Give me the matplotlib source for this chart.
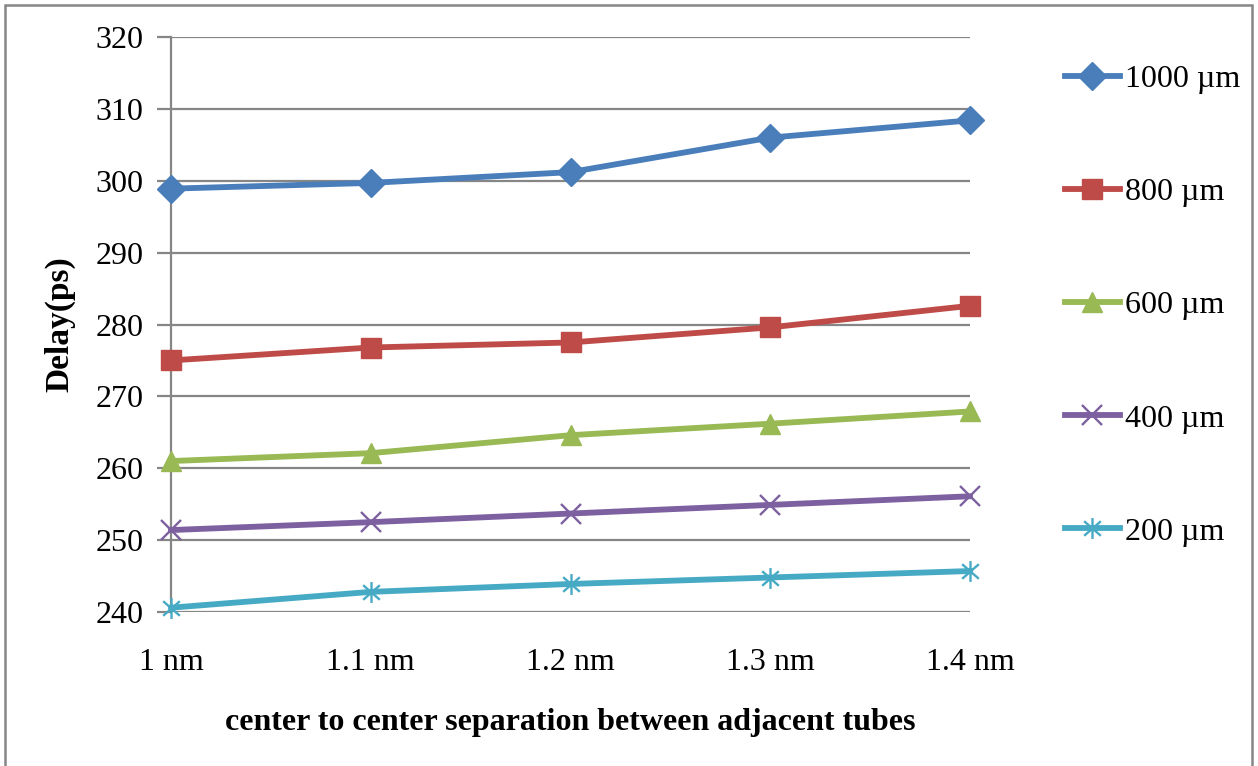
import matplotlib
matplotlib.use("Agg")
import matplotlib.pyplot as plt
from matplotlib.path import Path
from matplotlib.patches import Rectangle
import numpy as np

plt.rcParams['font.family'] = ['Liberation Serif', 'DejaVu Serif']

categories = ["1 nm", "1.1 nm", "1.2 nm", "1.3 nm", "1.4 nm"]
s1000 = [298.9, 299.7, 301.2, 306.0, 308.4]
s800 = [275.0, 276.8, 277.5, 279.6, 282.6]
s600 = [261.0, 262.1, 264.6, 266.2, 267.9]
s400 = [251.4, 252.5, 253.7, 254.9, 256.1]
s200 = [240.6, 242.8, 243.9, 244.8, 245.7]
labels = ["1000 µm", "800 µm", "600 µm", "400 µm", "200 µm"]
yticks = [240, 250, 260, 270, 280, 290, 300, 310, 320]

colors = ["#4A7EBB", "#BE4B48", "#98B954", "#7D60A0", "#46AAC5"]

star = Path([(0, -1), (0, 1), (-0.8, -0.7), (0.8, 0.7), (-0.8, 0.7), (0.8, -0.7)],
            [Path.MOVETO, Path.LINETO, Path.MOVETO, Path.LINETO, Path.MOVETO, Path.LINETO])
markers = ["D", "s", "^", "x", star]
msizes = [14, 14.5, 15, 14, 15]

FS = 23

fig = plt.figure(figsize=(12.58, 7.66), dpi=100)
ax = fig.add_axes([171/1258, 1-612/766, (970-171)/1258, (612-37)/766])

x = np.arange(len(categories))
series = [s1000, s800, s600, s400, s200]
for s, c, m, ms, lab in zip(series, colors, markers, msizes, labels):
    mew = 1.7 if (isinstance(m, str) and m == "x") or m is star else 1
    ax.plot(x, s, color=c, lw=4.2, marker=m, markersize=ms, markeredgecolor=c,
            markerfacecolor=c, markeredgewidth=mew, label=lab, clip_on=False, zorder=3)

ax.set_xlim(0, 4)
ax.set_ylim(240, 320)
ax.set_yticks(yticks)
ax.set_xticks(x)
ax.set_xticklabels(categories)
ax.grid(axis='y', color='#868686', lw=1.6)
ax.set_axisbelow(True)
for sp in ['top', 'right', 'bottom']:
    ax.spines[sp].set_visible(False)
ax.spines['left'].set_color('#868686')
ax.spines['left'].set_linewidth(1.6)
ax.tick_params(axis='y', length=10, width=1.6, color='#868686', labelsize=FS, pad=10)
ax.tick_params(axis='x', length=0, labelsize=FS, pad=26)
ax.set_ylabel("Delay(ps)", fontsize=FS + 1, fontweight='bold', labelpad=14)
ax.set_xlabel("center to center separation between adjacent tubes", fontsize=FS,
              fontweight='bold', labelpad=22)

leg = fig.legend(loc='upper left', bbox_to_anchor=(1065/1258, 1-65/766), frameon=False,
                 fontsize=FS, labelspacing=2.62, handlelength=1.72, handletextpad=0.15,
                 borderaxespad=0, borderpad=0)

fig.patches.append(Rectangle((5/1258, -0.01), 1247/1258, 1-5/766+0.01, transform=fig.transFigure,
                             fill=False, edgecolor='#868686', lw=1.8))

fig.savefig("out.png", dpi=100)
